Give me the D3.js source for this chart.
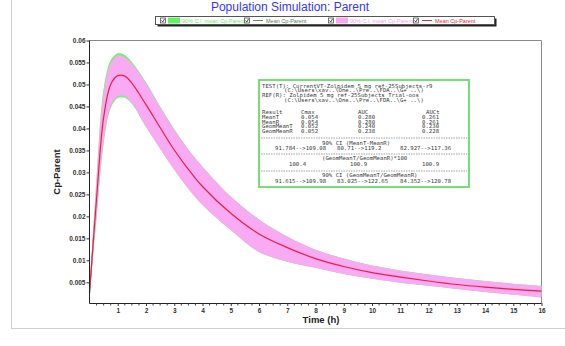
<!DOCTYPE html>
<html>
<head>
<meta charset="utf-8">
<script src="https://cdn.jsdelivr.net/npm/d3@7"></script>
<style>
  body { margin: 0; background: #fff; }
  svg { display: block; font-family: Arial, "Liberation Sans", sans-serif; }
</style>
</head>
<body>
<svg width="565" height="346"></svg>
<script>
// время (ч)
const times = [0, 0.25, 0.5, 0.75, 1, 1.25, 1.5, 2, 2.5, 3, 3.5, 4, 5, 6, 7, 8, 9, 10, 11, 12, 13, 14, 15, 16];

// среднее Cp-Parent (красная линия)
const meanRed = [0.0025, 0.024, 0.0425, 0.0500, 0.0520, 0.0519, 0.0503, 0.0454, 0.0402, 0.0351, 0.0307, 0.0268,
  0.0207, 0.0160, 0.0129, 0.0104, 0.0086, 0.0072, 0.0062, 0.0053, 0.0045, 0.0039, 0.0034, 0.0030];
// 90% ДИ (розовый)
const upperPink = [0.0027, 0.028, 0.048, 0.0548, 0.0566, 0.0562, 0.0547, 0.0503, 0.0449, 0.0397, 0.0352, 0.0313,
  0.0245, 0.0193, 0.0154, 0.0124, 0.0104, 0.0088, 0.0077, 0.0068, 0.0060, 0.0053, 0.0047, 0.0042];
const lowerPink = [0.0022, 0.020, 0.037, 0.0450, 0.0473, 0.0473, 0.0458, 0.0404, 0.0354, 0.0306, 0.0263, 0.0226,
  0.0169, 0.0119, 0.0097, 0.0083, 0.0069, 0.0058, 0.0049, 0.0042, 0.0035, 0.0028, 0.0022, 0.0016];
// среднее и 90% ДИ (зелёный)
const meanGreen = [0.0025, 0.0242, 0.0427, 0.0501, 0.0521, 0.0520, 0.0504, 0.0454, 0.0402, 0.0351, 0.0307, 0.0268,
  0.0207, 0.0160, 0.0129, 0.0104, 0.0086, 0.0072, 0.0062, 0.0053, 0.0045, 0.0039, 0.0034, 0.0030];
const upperGreen = [0.0028, 0.0290, 0.0490, 0.0555, 0.0571, 0.0567, 0.0551, 0.0505, 0.0450, 0.0398, 0.0352, 0.0313,
  0.0245, 0.0193, 0.0154, 0.0124, 0.0104, 0.0088, 0.0077, 0.0068, 0.0060, 0.0053, 0.0047, 0.0042];
const lowerGreen = [0.0021, 0.0195, 0.0365, 0.0446, 0.0469, 0.0470, 0.0456, 0.0403, 0.0354, 0.0306, 0.0263, 0.0226,
  0.0169, 0.0119, 0.0097, 0.0083, 0.0069, 0.0058, 0.0049, 0.0042, 0.0035, 0.0028, 0.0022, 0.0016];

const xTicks = d3.range(1, 17);
const yTicks = [0.005, 0.01, 0.015, 0.02, 0.025, 0.03, 0.035, 0.04, 0.045, 0.05, 0.055, 0.06];

const legendItems = [
  { label: "90% C.I. mean Cp-Parent", kind: "box", color: "#66ee66", text: "#66ee66" },
  { label: "Mean Cp-Parent", kind: "line", color: "#6a8a6a", text: "#5a7a5a" },
  { label: "90% C.I. mean Cp-Parent", kind: "box", color: "#f7a8f0", text: "#f5a0ee" },
  { label: "Mean Cp-Parent", kind: "line", color: "#ee2244", text: "#ee2244" }
];

const statsHead = ["TEST(T): CurrentVT-Zolpidem 5 mg ref-25Subjects-r9",
  "(C:\\Users\\xav..\\One..\\Pre..\\FDA..\\G+ ..\\)",
  "REF(R): Zolpidem 5 mg ref-25Subjects_Trial-oos",
  "(C:\\Users\\xav..\\One..\\Pre..\\FDA..\\G+ ..\\)"];
const statsCols = ["Result", "Cmax", "AUC", "AUCt"];
const statsRows = [
  ["MeanT", "0.054", "0.280", "0.261"],
  ["MeanR", "0.054", "0.280", "0.261"],
  ["GeomMeanT", "0.052", "0.240", "0.230"],
  ["GeomMeanR", "0.052", "0.238", "0.228"]
];
const ciMeanTitle = "90% CI (MeanT-MeanR)";
const ciMean = ["91.784-->109.08", "80.71-->119.2", "82.927-->117.36"];
const ratioTitle = "(GeomMeanT/GeomMeanR)*100";
const ratio = ["100.4", "100.9", "100.9"];
const ciGeomTitle = "90% CI (GeomMeanT/GeomMeanR)";
const ciGeom = ["91.615-->109.98", "83.025-->122.65", "84.352-->120.78"];

const svg = d3.select("svg");

// рамка страницы
svg.append("line").attr("x1", 11.5).attr("x2", 11.5).attr("y1", 0).attr("y2", 328).attr("stroke", "#d0d0d0");
svg.append("line").attr("x1", 11).attr("x2", 565).attr("y1", 328.5).attr("y2", 328.5).attr("stroke", "#d0d0d0");

const x = d3.scaleLinear().domain([0, 16]).range([89.5, 541.5]);
const y = d3.scaleLinear().domain([0, 0.06]).range([304.3, 40.5]);

const pts = (arr) => times.map((t, i) => ({ t, v: arr[i] }));
const band = (lo, hi) => times.map((t, i) => ({ t, lo: lo[i], hi: hi[i] }));

const area = d3.area().x(d => x(d.t)).y0(d => y(d.lo)).y1(d => y(d.hi)).curve(d3.curveCatmullRom);
const line = d3.line().x(d => x(d.t)).y(d => y(d.v)).curve(d3.curveCatmullRom);

// рамка графика (серые верх и право)
svg.append("path")
  .attr("d", `M89.5,40.5H541.5V303`)
  .attr("fill", "none").attr("stroke", "#8a8a8a");

svg.append("path").attr("d", area(band(lowerGreen, upperGreen))).attr("fill", "#77ee77");
svg.append("path").attr("d", line(pts(meanGreen))).attr("fill", "none").attr("stroke", "#6a8a6a").attr("stroke-width", 1.2);
svg.append("path").attr("d", area(band(lowerPink, upperPink))).attr("fill", "#f8aaf2");
svg.append("path").attr("d", line(pts(meanRed))).attr("fill", "none").attr("stroke", "#ee1c48").attr("stroke-width", 1.2);

// оси
const yAxis = svg.append("g").attr("transform", "translate(89.5,0)")
  .call(d3.axisLeft(y).tickValues(yTicks).tickSize(3).tickPadding(1).tickFormat(d => String(+d.toFixed(3))));
yAxis.select(".domain").attr("d", "M0,40.5V303.5").attr("stroke", "#222");

const xAxis = svg.append("g").attr("transform", "translate(0,303)")
  .call(d3.axisBottom(x).tickValues(xTicks).tickSize(3).tickPadding(2));
xAxis.select(".domain").attr("d", "M89.5,0.5H541.5").attr("stroke", "#222");
xAxis.selectAll(".minor").data(d3.range(0.25, 16, 0.25).filter(v => v % 1 !== 0))
  .enter().append("line").attr("class", "minor")
  .attr("x1", d => x(d)).attr("x2", d => x(d)).attr("y1", 0.5).attr("y2", 2.5).attr("stroke", "#444");

svg.selectAll(".tick text").attr("font-size", 6.5).attr("font-weight", "bold").attr("fill", "#333")
  .attr("font-family", "Arial, 'Liberation Sans', sans-serif");
svg.selectAll(".tick line").attr("stroke", "#333");

svg.append("text").attr("x", 321).attr("y", 323).attr("text-anchor", "middle")
  .attr("font-size", 9.5).attr("font-weight", "bold").attr("fill", "#222").text("Time (h)");
svg.append("text").attr("transform", "translate(60,172) rotate(-90)").attr("text-anchor", "middle")
  .attr("font-size", 9.5).attr("font-weight", "bold").attr("fill", "#222").text("Cp-Parent");

// заголовок
svg.append("text").attr("x", 290).attr("y", 11).attr("text-anchor", "middle")
  .attr("font-size", 12).attr("fill", "#3535ff").text("Population Simulation: Parent");

// легенда
const lg = svg.append("g");
lg.append("rect").attr("x", 157.5).attr("y", 18.5).attr("width", 339).attr("height", 8).attr("fill", "#222");
lg.append("rect").attr("x", 155.5).attr("y", 16.5).attr("width", 339).attr("height", 8).attr("fill", "#fff").attr("stroke", "#555");
const legX = [160, 244, 328, 413];
legendItems.forEach((d, i) => {
  const g = lg.append("g").attr("transform", `translate(${legX[i]},17.5)`);
  g.append("rect").attr("x", 0.5).attr("y", 0.5).attr("width", 5).attr("height", 5).attr("fill", "#fff").attr("stroke", "#555").attr("stroke-width", 0.8);
  g.append("path").attr("d", "M1.5,3 L2.8,4.5 L4.6,1.3").attr("fill", "none").attr("stroke", "#222").attr("stroke-width", 0.8);
  if (d.kind === "box") {
    g.append("rect").attr("x", 8).attr("y", 0).attr("width", 12).attr("height", 6).attr("fill", d.color);
  } else {
    g.append("line").attr("x1", 9).attr("x2", 19).attr("y1", 3).attr("y2", 3).attr("stroke", d.color).attr("stroke-width", 1);
  }
  g.append("text").attr("x", 22).attr("y", 5.1).attr("font-size", 5.5).attr("fill", d.text).text(d.label);
});

// таблица статистики
const charW = 3.41;
const tb = svg.append("g").attr("font-family", "'DejaVu Sans Mono', 'Liberation Mono', monospace")
  .attr("font-size", 5.4).attr("fill", "#3a3a3a");
tb.append("rect").attr("x", 259).attr("y", 80).attr("width", 210).attr("height", 107)
  .attr("fill", "#fff").attr("stroke", "#77dd77").attr("stroke-width", 2);
const tx = (xx, yy, s) => tb.append("text").attr("x", xx).attr("y", yy)
  .attr("textLength", s.length * charW).attr("lengthAdjust", "spacingAndGlyphs").text(s);
statsHead.forEach((s, i) => tx(i % 2 ? 284 : 262, 87.5 + i * 4.7, s));
const colX = [262, 301, 358, 422];
statsCols.forEach((s, j) => tx(colX[j] + (j === 3 ? 4 : 0), 114, s));
statsRows.forEach((r, i) => r.forEach((s, j) => tx(colX[j], 119 + i * 4.6, s)));
const dash = (yy) => tb.append("line").attr("x1", 261).attr("x2", 467).attr("y1", yy).attr("y2", yy)
  .attr("stroke", "#666").attr("stroke-width", 0.6).attr("stroke-dasharray", "1.5,1");
dash(138);
tx(322, 144.5, ciMeanTitle);
[275, 337, 400].forEach((xx, j) => tx(xx, 150, ciMean[j]));
dash(154);
tx(322, 160, ratioTitle);
[289, 350, 422].forEach((xx, j) => tx(xx, 166, ratio[j]));
dash(171);
tx(322, 177, ciGeomTitle);
[275, 337, 400].forEach((xx, j) => tx(xx, 183, ciGeom[j]));
</script>
</body>
</html>
